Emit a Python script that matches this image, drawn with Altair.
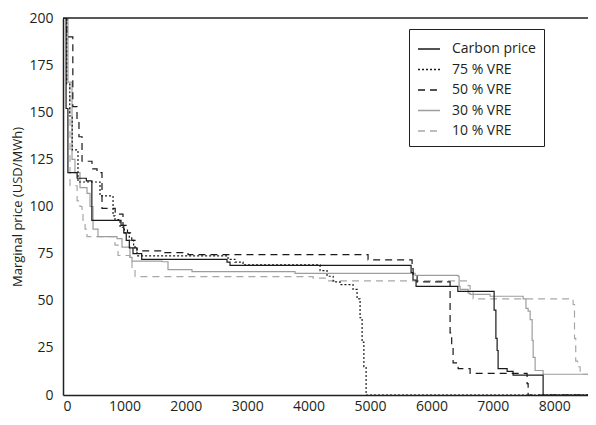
import altair as alt
import pandas as pd

series = ["Carbon price", "75 % VRE", "50 % VRE", "30 % VRE", "10 % VRE"]
colors = ["#1a1a1a", "#1a1a1a", "#1a1a1a", "#9d9d9d", "#a8a8a8"]
dashes = [[1, 0], [2, 2], [7, 5], [1, 0], [7, 5]]

x_ticks = [0, 1000, 2000, 3000, 4000, 5000, 6000, 7000, 8000]
y_ticks = [0, 25, 50, 75, 100, 125, 150, 175, 200]
frame_top = [200]

carbon_x = [0, 50, 80, 230, 380, 470, 945, 990, 1030, 1080, 1140, 1282, 2671, 2720,
            5669, 5700, 5750, 6430, 7021, 7050, 7070, 7086, 7233, 7330, 7819, 8700]
carbon_y = [200, 152, 118, 115, 113.6, 92.6, 90, 86, 82, 78, 75, 71.9, 70.5, 68.8,
            65, 61, 57.6, 55, 45, 30, 23.6, 14, 12.5, 10.5, 0, 0]

vre75_x = [0, 60, 110, 150, 244, 603, 815, 847, 929, 1000, 1080, 1150, 1205, 2688, 2800,
           2932, 4187, 4300, 4400, 4512, 4724, 4789, 4838, 4871, 4900, 4936, 8700]
vre75_y = [200, 165, 148, 130, 113, 105.6, 95, 93, 89, 86, 82, 78, 73.8, 72, 70.5,
           69, 66, 63, 60, 58.6, 56, 51, 41, 28, 15, 0, 0]

vre50_x = [0, 60, 160, 228, 260, 310, 472, 554, 635, 850, 977, 1050, 1120, 1173, 1205,
           1600, 2036, 4968, 5685, 5702, 5767, 6304, 6330, 6353, 6435, 6630, 7558, 7575, 8700]
vre50_y = [200, 190, 153, 146, 137, 124, 120, 118, 99, 96, 90, 86, 82, 78, 76.5,
           75.5, 74.5, 71.7, 67, 63, 60, 33, 25, 17, 14, 11.5, 6, 0, 0]

vre30_x = [0, 81, 147, 195, 277, 391, 440, 489, 570, 880, 961, 1091, 1124, 1613, 1710,
           2101, 3779, 5734, 6435, 6451, 6467, 6598, 6630, 6956, 7494, 7540, 7575, 7608,
           7640, 7657, 7689, 7819, 8700]
vre30_y = [200, 166, 125, 118, 110, 107, 100, 88, 84, 83, 78.5, 73, 71, 70.7, 66.5,
           65.5, 64.5, 63.5, 63, 57.6, 56, 54, 53.4, 52.4, 51, 46, 44.5, 40,
           29, 20, 13, 11, 11]

vre10_x = [0, 60, 114, 230, 277, 310, 326, 360, 391, 847, 896, 1091, 1124, 1173, 4073,
           4300, 6598, 6630, 6679, 8308, 8330, 8350, 8380, 8422, 8700]
vre10_y = [200, 165, 111, 103, 100, 97, 92, 88, 84, 79.5, 74, 70.7, 66.5, 62.8, 62,
           60.5, 58, 56, 51, 48, 30, 18, 15, 11, 11]

# draw order: grey first, black on top
draw = [("10 % VRE", vre10_x, vre10_y), ("30 % VRE", vre30_x, vre30_y),
        ("50 % VRE", vre50_x, vre50_y), ("75 % VRE", vre75_x, vre75_y),
        ("Carbon price", carbon_x, carbon_y)]
rows = []
for name, xs, ys in draw:
    for i, (xv, yv) in enumerate(zip(xs, ys)):
        rows.append({"series": name, "x": xv, "y": yv, "idx": i})
df = pd.DataFrame(rows)

FONT = "Open Sans"
TXT = "#231f20"

legend = alt.Legend(
    title=None, orient="none", legendX=346, legendY=11,
    strokeColor=TXT, padding=8, symbolType="stroke", symbolSize=484,
    symbolStrokeWidth=1.3, labelFont=FONT, labelFontSize=14, labelColor=TXT,
    labelOffset=11, rowPadding=1.5, fillColor="white",
)

xscale = alt.Scale(domain=[0, 8550], nice=False, zero=False)
yscale = alt.Scale(domain=[0, 200], nice=False)

lines = alt.Chart(df).mark_line(interpolate="step-after", strokeWidth=1.2, clip=True).encode(
    x=alt.X("x:Q", scale=xscale,
            axis=alt.Axis(values=x_ticks, title=None, labelPadding=4, format="d")),
    y=alt.Y("y:Q", scale=yscale,
            axis=alt.Axis(values=y_ticks, title="Marginal price (USD/MWh)",
                          labelPadding=10, titlePadding=4, titleFontSize=13)),
    color=alt.Color("series:N", scale=alt.Scale(domain=series, range=colors), legend=legend),
    strokeDash=alt.StrokeDash("series:N", scale=alt.Scale(domain=series, range=dashes), legend=legend),
    order=alt.Order("idx:Q"),
)

top = alt.Chart(pd.DataFrame({"top": frame_top})).mark_rule(
    color=TXT, strokeWidth=1.5
).encode(y=alt.Y("top:Q", scale=yscale))

chart = alt.layer(lines, top).properties(
    width=525, height=377,
    autosize=alt.AutoSizeParams(type="none"),
    padding={"left": 55, "top": 10, "right": 0, "bottom": 22},
).configure_view(
    stroke=None
).configure_axis(
    domain=True, domainColor=TXT, domainWidth=1.5, ticks=False, grid=False,
    labelFont=FONT, labelFontSize=14, labelColor=TXT,
    titleFont=FONT, titleFontSize=13, titleFontWeight="normal", titleColor=TXT,
)

chart.save("out.html", embed_options={"renderer": "svg", "actions": False})
